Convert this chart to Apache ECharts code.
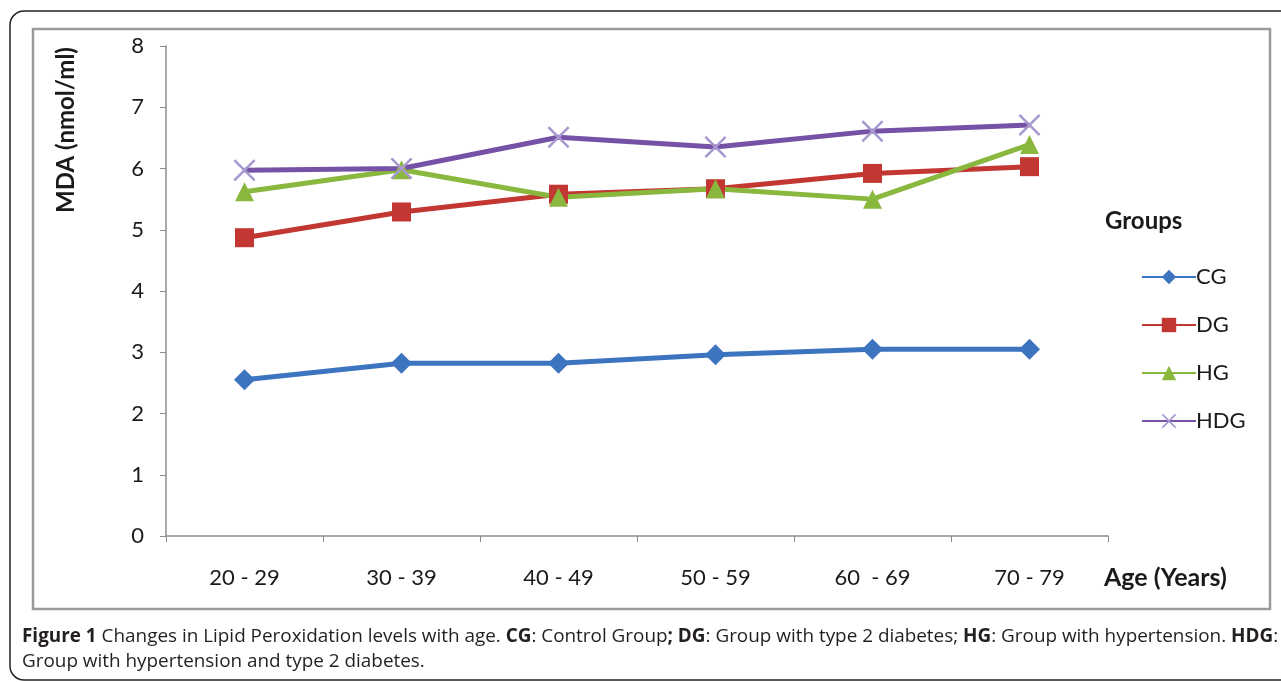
<!DOCTYPE html>
<html>
<head>
<meta charset="utf-8">
<script src="https://cdn.jsdelivr.net/npm/echarts@6/dist/echarts.min.js"></script>
<style>
  html, body { margin: 0; padding: 0; background: #fff; }
  #chart { width: 1281px; height: 682px; }
</style>
</head>
<body>
<div id="chart"></div>
<script>
// Age bands on the x axis
const ageGroups = ['20 - 29', '30 - 39', '40 - 49', '50 - 59', '60  - 69', '70 - 79'];

// MDA (nmol/ml) per group and age band
const cgValues  = [2.55, 2.82, 2.82, 2.96, 3.05, 3.05];
const dgValues  = [4.87, 5.29, 5.58, 5.67, 5.92, 6.03];
const hgValues  = [5.62, 5.98, 5.53, 5.67, 5.50, 6.39];
const hdgValues = [5.97, 6.00, 6.51, 6.35, 6.61, 6.71];

// Y axis scale
const yMin = 0, yMax = 8, yStep = 1;

const chartFont = 'Lato, "Open Sans", sans-serif';
const captionFont = '"Open Sans", Lato, sans-serif';

// X-shaped marker for the HDG series
const crossPath = 'path://M0,0.8L0.8,0L5,4.2L9.2,0L10,0.8L5.8,5L10,9.2L9.2,10L5,5.8L0.8,10L0,9.2L4.2,5Z';

const chart = echarts.init(document.getElementById('chart'), null, { renderer: 'canvas' });

function lineSeries(name, data, color, symbol, size, markerColor) {
  return {
    name: name,
    type: 'line',
    data: data,
    symbol: symbol,
    symbolSize: size,
    showSymbol: true,
    lineStyle: { color: color, width: 5 },
    itemStyle: { color: markerColor || color, borderWidth: 0 },
    emphasis: { disabled: true },
    z: 3
  };
}

const option = {
  animation: false,
  backgroundColor: '#ffffff',
  textStyle: { fontFamily: chartFont },
  grid: { left: 166, right: 173, top: 46, bottom: 146, containLabel: false },
  xAxis: {
    type: 'category',
    data: ageGroups,
    boundaryGap: true,
    axisLine: { show: true, lineStyle: { color: '#8c8c8c', width: 1.5 } },
    axisTick: { show: true, alignWithLabel: false, length: 6, lineStyle: { color: '#8c8c8c' } },
    axisLabel: { color: '#1a1a1a', fontSize: 22, margin: 31, fontFamily: chartFont },
    splitLine: { show: false }
  },
  yAxis: {
    type: 'value',
    min: yMin,
    max: yMax,
    interval: yStep,
    axisLine: { show: true, lineStyle: { color: '#8c8c8c', width: 1.5 } },
    axisTick: { show: true, length: 6, lineStyle: { color: '#8c8c8c' } },
    axisLabel: { color: '#1a1a1a', fontSize: 22, margin: 22, fontFamily: chartFont },
    splitLine: { show: false }
  },
  legend: {
    orient: 'vertical',
    left: 1136,
    top: 261,
    itemGap: 26,
    itemWidth: 54,
    itemHeight: 18,
    textStyle: { color: '#1a1a1a', fontSize: 22, fontFamily: chartFont, padding: [0, 0, 0, -5] },
    data: ['CG', 'DG', 'HG', 'HDG']
  },
  graphic: [
    // outer frame around figure and caption
    { type: 'rect', shape: { x: 10, y: 11, width: 1290, height: 669, r: 14 },
      style: { fill: null, stroke: '#222', lineWidth: 1.5 }, silent: true, z: -10 },
    // chart box
    { type: 'rect', shape: { x: 33, y: 29, width: 1237, height: 580 },
      style: { fill: null, stroke: '#9a9a9a', lineWidth: 2.5 }, silent: true, z: -9 },
    // y axis name
    { type: 'text', x: 66, y: 130, rotation: Math.PI / 2,
      style: { text: 'MDA (nmol/ml)', fill: '#1a1a1a', font: 'bold 24px ' + chartFont,
               align: 'center', verticalAlign: 'middle' }, silent: true },
    // x axis name
    { type: 'text', x: 1104, y: 578,
      style: { text: 'Age (Years)', fill: '#1a1a1a', font: 'bold 25px ' + chartFont,
               align: 'left', verticalAlign: 'middle' }, silent: true },
    // legend heading
    { type: 'text', x: 1105, y: 221,
      style: { text: 'Groups', fill: '#1a1a1a', font: 'bold 24px ' + chartFont,
               align: 'left', verticalAlign: 'middle' }, silent: true },
    // caption
    { type: 'text', x: 22, y: 637,
      style: {
        text: '{b|Figure 1} Changes in Lipid Peroxidation levels with age. {b|CG}: Control Group{b|; DG}: Group with type 2 diabetes; {b|HG}: Group with hypertension. {b|HDG}:',
        fill: '#231f20', font: '18.9px ' + captionFont, verticalAlign: 'middle',
        rich: { b: { fontWeight: 'bold', fontSize: 18.9, fontFamily: captionFont, fill: '#231f20' } }
      }, silent: true },
    { type: 'text', x: 22, y: 662,
      style: { text: 'Group with hypertension and type 2 diabetes.', fill: '#231f20',
               font: '18.9px ' + captionFont, verticalAlign: 'middle' }, silent: true }
  ],
  series: [
    lineSeries('CG', cgValues, '#3d74c0', 'diamond', 21),
    lineSeries('DG', dgValues, '#c23732', 'rect', 19),
    lineSeries('HG', hgValues, '#8ab83f', 'triangle', 19),
    lineSeries('HDG', hdgValues, '#7552a6', crossPath, 22, '#a798cf')
  ]
};

chart.setOption(option);
</script>
</body>
</html>
